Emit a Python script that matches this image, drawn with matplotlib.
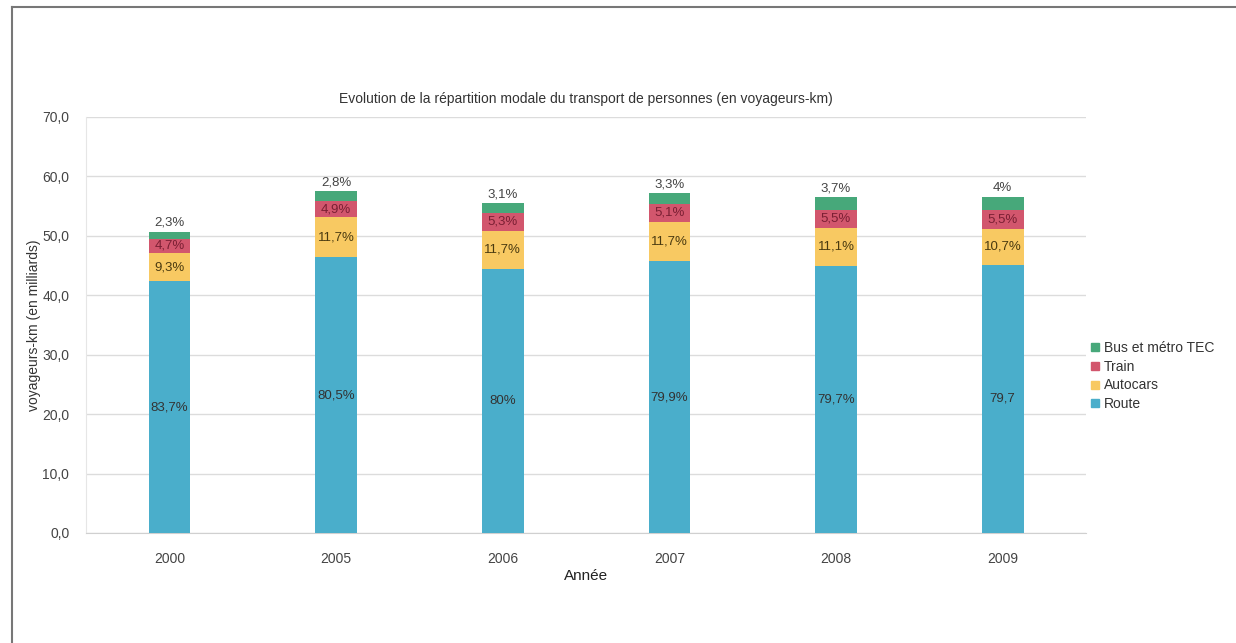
import matplotlib
matplotlib.use("Agg")
import matplotlib.pyplot as plt
from matplotlib.lines import Line2D
import numpy as np

plt.rcParams['font.family'] = ['Liberation Sans', 'DejaVu Sans']

years = ["2000", "2005", "2006", "2007", "2008", "2009"]
route = [42.4, 46.4, 44.4, 45.7, 45.0, 45.1]
autocars = [4.7, 6.7, 6.5, 6.7, 6.3, 6.1]
train = [2.4, 2.8, 2.9, 2.9, 3.1, 3.1]
bus = [1.2, 1.6, 1.7, 1.9, 2.1, 2.3]

route_lbl = ["83,7%", "80,5%", "80%", "79,9%", "79,7%", "79,7"]
autocars_lbl = ["9,3%", "11,7%", "11,7%", "11,7%", "11,1%", "10,7%"]
train_lbl = ["4,7%", "4,9%", "5,3%", "5,1%", "5,5%", "5,5%"]
bus_lbl = ["2,3%", "2,8%", "3,1%", "3,3%", "3,7%", "4%"]

yticks = [0, 10, 20, 30, 40, 50, 60, 70]
ytick_lbl = ["0,0", "10,0", "20,0", "30,0", "40,0", "50,0", "60,0", "70,0"]

c_route = "#4aaecb"
c_auto = "#f8c962"
c_train = "#d2566d"
c_bus = "#47a87a"

fig = plt.figure(figsize=(12.36, 6.43), dpi=100)
W, H = 1236, 643
ax = fig.add_axes([86 / W, 1 - 533 / H, 1000 / W, 416 / H])

x = np.arange(len(years))
w = 0.25
b1 = ax.bar(x, route, w, color=c_route, label="Route", zorder=3)
bot = np.array(route)
b2 = ax.bar(x, autocars, w, bottom=bot, color=c_auto, label="Autocars", zorder=3)
bot = bot + np.array(autocars)
b3 = ax.bar(x, train, w, bottom=bot, color=c_train, label="Train", zorder=3)
bot = bot + np.array(train)
b4 = ax.bar(x, bus, w, bottom=bot, color=c_bus, label="Bus et métro TEC", zorder=3)

fs = 9.5
ax.bar_label(b1, labels=route_lbl, label_type='center', fontsize=fs, color="#333333", zorder=4)
ax.bar_label(b2, labels=autocars_lbl, label_type='center', fontsize=fs, color="#4a3a10", zorder=4)
ax.bar_label(b3, labels=train_lbl, label_type='center', fontsize=fs, color="#7a1f33", zorder=4)
ax.bar_label(b4, labels=bus_lbl, label_type='edge', padding=2, fontsize=fs, color="#444444", zorder=4)

ax.set_xlim(-0.5, len(years) - 0.5)
ax.set_ylim(0, 70)
ax.set_yticks(yticks)
ax.set_yticklabels(ytick_lbl)
ax.set_xticks(x)
ax.set_xticklabels(years)
ax.tick_params(axis='both', length=0, labelsize=10, colors="#444444")
ax.tick_params(axis='x', pad=14)
ax.tick_params(axis='y', pad=12)
ax.yaxis.grid(True, color="#dcdcdc", linewidth=1, zorder=0)
for s in ["top", "right"]:
    ax.spines[s].set_visible(False)
ax.spines["left"].set_color("#e6e6e6")
ax.spines["bottom"].set_color("#d0d0d0")

ax.set_xlabel("Année", fontsize=11, color="#222222", labelpad=2)
ax.set_ylabel("voyageurs-km (en milliards)", fontsize=10, color="#333333", labelpad=1)
ax.set_title("Evolution de la répartition modale du transport de personnes (en voyageurs-km)",
             fontsize=10, color="#333333", pad=10)

leg = fig.legend(handles=[Line2D([0], [0], marker='s', linestyle='', color=c, markersize=6)
                          for c in [c_bus, c_train, c_auto, c_route]],
                 labels=["Bus et métro TEC", "Train", "Autocars", "Route"],
                 loc='center left', bbox_to_anchor=(1082 / W, 1 - 376 / H),
                 frameon=False, fontsize=10, handlelength=0.8, handletextpad=0.3,
                 labelspacing=0.35, borderpad=0)
for t in leg.get_texts():
    t.set_color("#333333")

# figure border (top and left)
fig.add_artist(Line2D([12 / W, 12 / W], [0, 1 - 7 / H], transform=fig.transFigure,
                      color="#777777", linewidth=1.5))
fig.add_artist(Line2D([12 / W, 1], [1 - 7 / H, 1 - 7 / H], transform=fig.transFigure,
                      color="#777777", linewidth=1.5))

fig.savefig("out.png", dpi=100)
